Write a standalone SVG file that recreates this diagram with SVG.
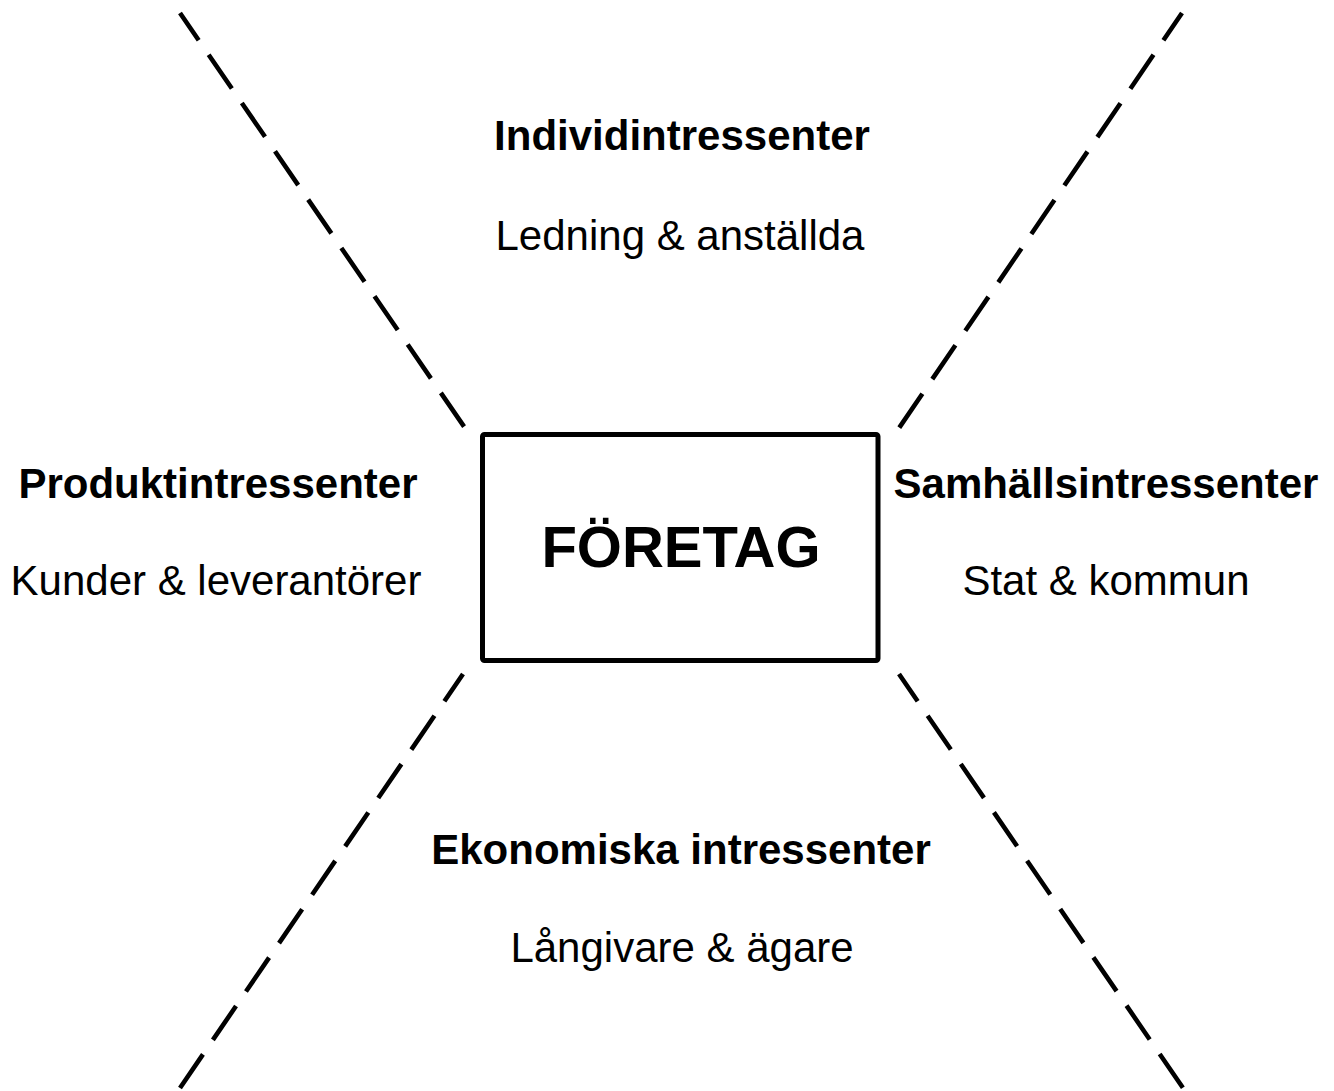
<svg xmlns="http://www.w3.org/2000/svg" width="1334" height="1091" viewBox="0 0 1334 1091">
<style>
.dash{stroke:#000;stroke-width:4.6;fill:none;stroke-dasharray:41 17.6;stroke-dashoffset:8}
.b{font-family:"Liberation Sans",Arial,sans-serif;font-weight:bold;font-size:42px;fill:#000;text-anchor:middle}
.r{font-family:"Liberation Sans",Arial,sans-serif;font-size:42px;fill:#000;text-anchor:middle}
</style>
<rect width="1334" height="1091" fill="#fff"/>
<g id="connectors">
<line class="dash" x1="180" y1="13" x2="465" y2="428"/>
<line class="dash" x1="1182" y1="13" x2="899" y2="428"/>
<line class="dash" x1="463" y1="674" x2="180" y2="1088"/>
<line class="dash" x1="899" y1="674" x2="1183" y2="1088"/>
</g>
<g id="foretag">
<rect x="482.5" y="434.5" width="395.5" height="226" rx="2" fill="#fff" stroke="#000" stroke-width="5" stroke-linejoin="round"/>
<text x="681" y="567" class="b" style="font-size:58px">FÖRETAG</text>
</g>
<g id="individ">
<text x="682" y="150" class="b">Individintressenter</text>
<text x="680" y="250" class="r">Ledning &amp; anställda</text>
</g>
<g id="produkt">
<text x="218" y="498" class="b">Produktintressenter</text>
<text x="216" y="595" class="r">Kunder &amp; leverantörer</text>
</g>
<g id="samhall">
<text x="1106" y="498" class="b">Samhällsintressenter</text>
<text x="1106" y="595" class="r">Stat &amp; kommun</text>
</g>
<g id="ekonomi">
<text x="681" y="864" class="b">Ekonomiska intressenter</text>
<text x="682" y="962" class="r">Långivare &amp; ägare</text>
</g>
</svg>
